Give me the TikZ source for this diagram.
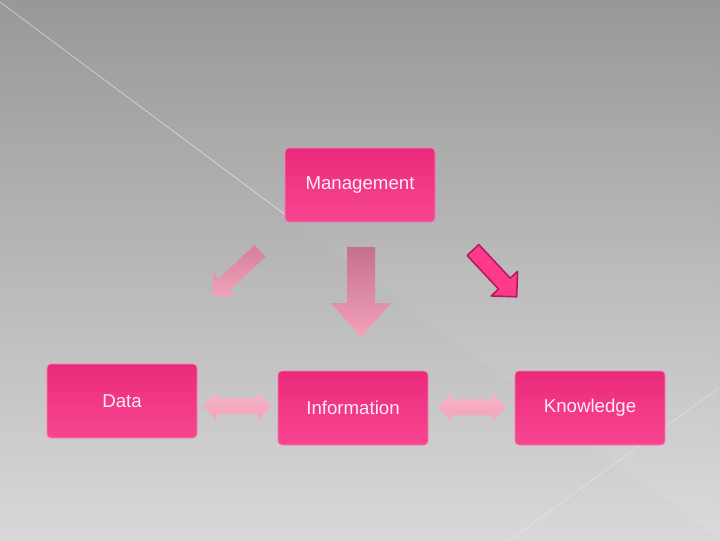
\documentclass[tikz,border=0pt]{standalone}
\usepackage{fontspec}
\setmainfont{Liberation Sans}
\usetikzlibrary{fadings}
\definecolor{bgtop}{RGB}{152,152,152}
\definecolor{bgbot}{RGB}{216,216,216}
\definecolor{boxtop}{RGB}{234,42,122}
\definecolor{boxbot}{RGB}{248,70,145}
\definecolor{boxtext}{RGB}{252,236,244}
\definecolor{rosedark}{RGB}{198,112,140}
\definecolor{roselight}{RGB}{243,162,186}
\definecolor{hotpink}{RGB}{255,58,140}
\definecolor{hotedge}{RGB}{178,30,90}
\begin{document}
\begin{tikzpicture}[x=0.75pt, y=-0.75pt,
  box/.style={rounded corners=3pt, top color=boxtop, bottom color=boxbot, draw=boxbot!70!white, line width=0.4pt,
    minimum width=112.5pt, minimum height=55.5pt, text=boxtext, font=\fontsize{14}{16}\selectfont},
  pics/blockarr/.style n args={4}{code={\path[pic actions] (0,#2) -- ({#1-#4},#2) -- ({#1-#4},#3) -- (#1,0) -- ({#1-#4},-#3) -- ({#1-#4},-#2) -- (0,-#2) -- cycle;}},
  pics/dblarr/.style n args={4}{code={\path[pic actions] (0,0) -- (#4,#3) -- (#4,#2) -- ({#1-#4},#2) -- ({#1-#4},#3) -- (#1,0) -- ({#1-#4},-#3) -- ({#1-#4},-#2) -- (#4,-#2) -- (#4,-#3) -- cycle;}}]
  \useasboundingbox (0,0) rectangle (720,540);
  \shade[top color=bgtop, bottom color=bgbot] (0,0) rectangle (720,540);
  \fill[white, opacity=0.09, path fading=north] (0,2) -- (720,0) -- (720,539) -- cycle;
  \draw[white, opacity=0.55, line width=0.5pt] (0,2) -- (287,216);
  \draw[white, opacity=0.35, line width=0.5pt] (720,387) -- (510,540);
  \node[box] (mgmt) at (360,185) {Management};
  \node[box] (data) at (122,401) {Data};
  \node[box] (info) at (353,408) {Information};
  \node[box] (know) at (590,408) {Knowledge};
  \pic[rotate=-90, top color=rosedark, bottom color=roselight] at (361,247) {blockarr={90}{14}{30}{34}};
  \pic[rotate=-137, top color=rosedark!70!roselight, bottom color=roselight] at (260,251) {blockarr={65}{8}{16}{16}};
  \pic[rotate=-47, fill=hotpink, draw=hotedge, line width=1.2pt, line join=round] at (473,250) {blockarr={64}{8}{18}{18}};
  \pic[top color=roselight!80!white, bottom color=roselight] at (203,406) {dblarr={68}{8}{14}{13}};
  \pic[top color=roselight!80!white, bottom color=roselight] at (438,407) {dblarr={68}{8}{14}{13}};
\end{tikzpicture}
\end{document}
